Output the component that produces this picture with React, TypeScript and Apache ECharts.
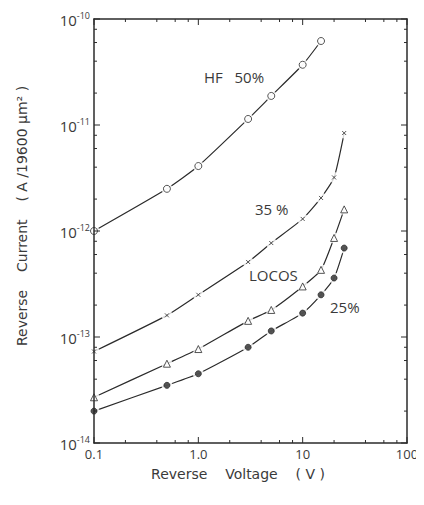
import React, { useEffect, useRef } from "react";
import * as echarts from "echarts";

// ---- data ----
const X_MIN = 0.1;
const X_MAX = 100;
const Y_MIN = 1e-14;
const Y_MAX = 1e-10;
const X_DECADES = [0.1, 1, 10];
const Y_DECADES = [1e-14, 1e-13, 1e-12, 1e-11];
const MINOR_MULTIPLIERS = [2, 4, 6, 8];
const X_LABELS: Record<string, string> = { "-1": "0.1", "0": "1.0", "1": "10", "2": "100" };

const hfVoltage = [0.1, 0.5, 1, 3, 5, 10, 15];
const hfCurrent = [1.0e-12, 2.5e-12, 4.1e-12, 1.14e-11, 1.88e-11, 3.7e-11, 6.2e-11];

const voltage = [0.1, 0.5, 1, 3, 5, 10, 15, 20, 25];
const pct35Current = [7.3e-14, 1.6e-13, 2.5e-13, 5.1e-13, 7.7e-13, 1.3e-12, 2.05e-12, 3.2e-12, 8.4e-12];
const locosCurrent = [2.7e-14, 5.6e-14, 7.7e-14, 1.42e-13, 1.8e-13, 3.0e-13, 4.3e-13, 8.6e-13, 1.6e-12];
const pct25Current = [2.0e-14, 3.5e-14, 4.5e-14, 8.0e-14, 1.14e-13, 1.68e-13, 2.5e-13, 3.6e-13, 6.9e-13];

const FONT = "'Open Sans', 'DejaVu Sans', sans-serif";
const WIDE_FONT = "'DejaVu Sans', 'Open Sans', sans-serif";
const INK = "#2b2b2b";
const TEXT = "#3a3a3a";

function pairs(xs: number[], ys: number[]) {
  return xs.map((x, i) => [x, ys[i]]);
}

export default function App() {
  const ref = useRef<HTMLDivElement>(null);

  useEffect(() => {
    if (!ref.current) return;
    const chart = echarts.init(ref.current, null, { renderer: "svg" });

    const xTicks: number[][] = [];
    X_DECADES.forEach((d) => {
      xTicks.push([d, Y_MIN, 1]);
      MINOR_MULTIPLIERS.forEach((m) => xTicks.push([d * m, Y_MIN, 0]));
    });
    xTicks.push([X_MAX, Y_MIN, 1]);
    const yTicks: number[][] = [];
    Y_DECADES.forEach((d) => {
      yTicks.push([X_MIN, d, 1]);
      MINOR_MULTIPLIERS.forEach((m) => yTicks.push([X_MIN, d * m, 0]));
    });
    yTicks.push([X_MIN, Y_MAX, 1]);

    const tickStyle = { stroke: INK, lineWidth: 1 };

    const seriesDefs = [
      { name: "HF 50%", data: pairs(hfVoltage, hfCurrent), symbol: "circle", size: 7, fill: "#fff" },
      { name: "35%", data: pairs(voltage, pct35Current), symbol: "path://M0,0L10,10M10,0L0,10", size: 4, fill: "none" },
      { name: "LOCOS", data: pairs(voltage, locosCurrent), symbol: "triangle", size: 7, fill: "#fff" },
      { name: "25%", data: pairs(voltage, pct25Current), symbol: "circle", size: 6, fill: INK },
    ];

    const series: any[] = [];
    seriesDefs.forEach((s) => {
      series.push({
        type: "line",
        name: s.name,
        data: s.data,
        smooth: 0.18,
        showSymbol: false,
        lineStyle: { color: INK, width: 1.2 },
        z: 2,
      });
      series.push({
        type: "scatter",
        data: s.data,
        symbol: "circle",
        symbolSize: 11,
        itemStyle: { color: "#fff" },
        silent: true,
        z: 3,
      });
      series.push({
        type: "scatter",
        name: s.name + " pts",
        data: s.data,
        symbol: s.symbol,
        symbolSize: s.size,
        itemStyle: { color: s.fill, borderColor: INK, borderWidth: 1 },
        z: 4,
      });
    });

    series.push({
      type: "custom",
      data: xTicks,
      encode: { x: 0, y: 1 },
      silent: true,
      z: 6,
      renderItem: (params: any, api: any) => {
        const v = api.value(0);
        const len = api.value(2) === 1 ? 6 : 3;
        const b = api.coord([v, Y_MIN]);
        const t = api.coord([v, Y_MAX]);
        return {
          type: "group",
          children: [
            { type: "line", shape: { x1: b[0], y1: b[1], x2: b[0], y2: b[1] - len }, style: tickStyle },
            { type: "line", shape: { x1: t[0], y1: t[1], x2: t[0], y2: t[1] + len }, style: tickStyle },
          ],
        };
      },
    });
    series.push({
      type: "custom",
      data: yTicks,
      encode: { x: 0, y: 1 },
      silent: true,
      z: 6,
      renderItem: (params: any, api: any) => {
        const v = api.value(1);
        const len = api.value(2) === 1 ? 6 : 3;
        const l = api.coord([X_MIN, v]);
        const r = api.coord([X_MAX, v]);
        return {
          type: "group",
          children: [
            { type: "line", shape: { x1: l[0], y1: l[1], x2: l[0] + len, y2: l[1] }, style: tickStyle },
            { type: "line", shape: { x1: r[0], y1: r[1], x2: r[0] - len, y2: r[1] }, style: tickStyle },
          ],
        };
      },
    });

    const axisLine = { show: true, lineStyle: { color: INK, width: 1.5 } };

    const annotations = [
      { text: "HF   50%", x: 204, y: 77 },
      { text: "35 %", x: 255, y: 209 },
      { text: "LOCOS", x: 249, y: 275 },
      { text: "25%", x: 330, y: 307 },
    ];

    chart.setOption({
      animation: false,
      backgroundColor: "#fff",
      grid: { left: 94, right: 17, top: 19, bottom: 62, show: false },
      xAxis: [
        {
          type: "log",
          logBase: 10,
          min: X_MIN,
          max: X_MAX,
          position: "bottom",
          z: 10,
          axisLine,
          axisTick: { show: false },
          splitLine: { show: false },
          minorTick: { show: false },
          axisLabel: {
            margin: 4,
            color: TEXT,
            fontFamily: FONT,
            fontSize: 13,
            lineHeight: 13,
            formatter: (v: number) => X_LABELS[String(Math.round(Math.log10(v)))] ?? "",
          },
        },
        {
          type: "log",
          logBase: 10,
          min: X_MIN,
          max: X_MAX,
          position: "top",
          z: 10,
          axisLine,
          axisTick: { show: false },
          splitLine: { show: false },
          axisLabel: { show: false },
        },
      ],
      yAxis: [
        {
          type: "log",
          logBase: 10,
          min: Y_MIN,
          max: Y_MAX,
          position: "left",
          z: 10,
          axisLine,
          axisTick: { show: false },
          splitLine: { show: false },
          axisLabel: {
            margin: 4,
            color: TEXT,
            fontFamily: FONT,
            formatter: (v: number) => `{b|10}{s|-${-Math.round(Math.log10(v))}}`,
            rich: {
              b: { fontSize: 15, fontFamily: FONT, color: TEXT, verticalAlign: "bottom" },
              s: { fontSize: 9, fontFamily: FONT, color: TEXT, verticalAlign: "top", padding: [0, 0, 8, 0] },
            },
          },
        },
        {
          type: "log",
          logBase: 10,
          min: Y_MIN,
          max: Y_MAX,
          position: "right",
          z: 10,
          axisLine,
          axisTick: { show: false },
          splitLine: { show: false },
          axisLabel: { show: false },
        },
      ],
      series,
      graphic: [
        {
          type: "text",
          x: 22,
          y: 216,
          rotation: Math.PI / 2,
          style: {
            text: "Reverse    Current    ( A /19600 μm² )",
            fontFamily: WIDE_FONT,
            fontSize: 14,
            fill: TEXT,
            align: "center",
            verticalAlign: "middle",
          },
        },
        {
          type: "text",
          x: 238,
          y: 474,
          style: {
            text: "Reverse    Voltage    ( V )",
            fontFamily: WIDE_FONT,
            fontSize: 14,
            lineHeight: 14,
            fill: TEXT,
            align: "center",
            verticalAlign: "middle",
          },
        },
        ...annotations.map((a) => ({
          type: "text",
          x: a.x,
          y: a.y,
          style: {
            text: a.text,
            fontFamily: FONT,
            fontSize: 15,
            fill: TEXT,
            align: "left",
            verticalAlign: "middle",
          },
        })),
      ],
    });

    return () => chart.dispose();
  }, []);

  return <div ref={ref} style={{ width: 424, height: 505, margin: -8 }} />;
}
